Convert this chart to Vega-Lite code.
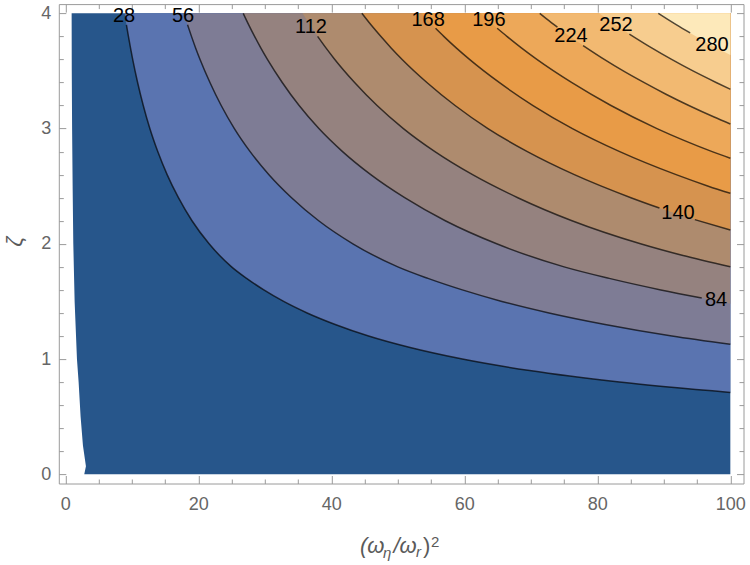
{
  "$schema": "https://vega.github.io/schema/vega-lite/v6.json",
  "width": 684.7,
  "height": 479.4,
  "autosize": {"type": "none"},
  "padding": {"left": 58.8, "top": 4.1, "right": 6.5, "bottom": 81.5},
  "background": "white",
  "config": {"view": {"stroke": null}, "font": "Liberation Sans"},
  "datasets": {
    "region": [
      {"x": 2.85, "zeta": 0.0},
      {"x": 3.1, "zeta": 0.07},
      {"x": 2.65, "zeta": 0.25},
      {"x": 2.3, "zeta": 0.5},
      {"x": 2.0, "zeta": 0.8},
      {"x": 1.75, "zeta": 1.0},
      {"x": 1.4, "zeta": 1.5},
      {"x": 1.2, "zeta": 2.0},
      {"x": 1.1, "zeta": 2.5},
      {"x": 1.02, "zeta": 3.0},
      {"x": 0.97, "zeta": 3.5},
      {"x": 0.95, "zeta": 4.0}
    ],
    "contours": [
      {"level": 28, "part": "hidden", "x": 8.92, "zeta": 4.0},
      {"level": 28, "part": "a", "x": 9.19, "zeta": 3.9},
      {"level": 28, "part": "a", "x": 9.49, "zeta": 3.8},
      {"level": 28, "part": "a", "x": 9.8, "zeta": 3.7},
      {"level": 28, "part": "a", "x": 10.13, "zeta": 3.6},
      {"level": 28, "part": "a", "x": 10.87, "zeta": 3.4},
      {"level": 28, "part": "a", "x": 11.72, "zeta": 3.2},
      {"level": 28, "part": "a", "x": 12.71, "zeta": 3.0},
      {"level": 28, "part": "a", "x": 13.9, "zeta": 2.8},
      {"level": 28, "part": "a", "x": 15.31, "zeta": 2.6},
      {"level": 28, "part": "a", "x": 17.01, "zeta": 2.4},
      {"level": 28, "part": "a", "x": 19.05, "zeta": 2.2},
      {"level": 28, "part": "a", "x": 21.62, "zeta": 2.0},
      {"level": 28, "part": "a", "x": 25.0, "zeta": 1.8},
      {"level": 28, "part": "a", "x": 27.26, "zeta": 1.7},
      {"level": 28, "part": "a", "x": 29.85, "zeta": 1.6},
      {"level": 28, "part": "a", "x": 32.83, "zeta": 1.5},
      {"level": 28, "part": "a", "x": 36.36, "zeta": 1.4},
      {"level": 28, "part": "a", "x": 40.58, "zeta": 1.3},
      {"level": 28, "part": "a", "x": 45.6, "zeta": 1.2},
      {"level": 28, "part": "a", "x": 51.85, "zeta": 1.1},
      {"level": 28, "part": "a", "x": 59.7, "zeta": 1.0},
      {"level": 28, "part": "a", "x": 69.83, "zeta": 0.9},
      {"level": 28, "part": "a", "x": 83.33, "zeta": 0.8},
      {"level": 28, "part": "a", "x": 100, "zeta": 0.71},

      {"level": 56, "part": "hidden", "x": 17.83, "zeta": 4.0},
      {"level": 56, "part": "a", "x": 18.38, "zeta": 3.9},
      {"level": 56, "part": "a", "x": 18.97, "zeta": 3.8},
      {"level": 56, "part": "a", "x": 19.59, "zeta": 3.7},
      {"level": 56, "part": "a", "x": 20.26, "zeta": 3.6},
      {"level": 56, "part": "a", "x": 21.75, "zeta": 3.4},
      {"level": 56, "part": "a", "x": 23.44, "zeta": 3.2},
      {"level": 56, "part": "a", "x": 25.42, "zeta": 3.0},
      {"level": 56, "part": "a", "x": 27.79, "zeta": 2.8},
      {"level": 56, "part": "a", "x": 30.62, "zeta": 2.6},
      {"level": 56, "part": "a", "x": 34.02, "zeta": 2.4},
      {"level": 56, "part": "a", "x": 38.1, "zeta": 2.2},
      {"level": 56, "part": "a", "x": 43.24, "zeta": 2.0},
      {"level": 56, "part": "a", "x": 50.0, "zeta": 1.8},
      {"level": 56, "part": "a", "x": 54.53, "zeta": 1.7},
      {"level": 56, "part": "a", "x": 59.7, "zeta": 1.6},
      {"level": 56, "part": "a", "x": 65.65, "zeta": 1.5},
      {"level": 56, "part": "a", "x": 72.73, "zeta": 1.4},
      {"level": 56, "part": "a", "x": 81.16, "zeta": 1.3},
      {"level": 56, "part": "a", "x": 91.21, "zeta": 1.2},
      {"level": 56, "part": "a", "x": 100, "zeta": 1.128},

      {"level": 84, "part": "a", "x": 26.75, "zeta": 4.0},
      {"level": 84, "part": "a", "x": 27.58, "zeta": 3.9},
      {"level": 84, "part": "a", "x": 28.46, "zeta": 3.8},
      {"level": 84, "part": "a", "x": 29.39, "zeta": 3.7},
      {"level": 84, "part": "a", "x": 30.39, "zeta": 3.6},
      {"level": 84, "part": "a", "x": 32.62, "zeta": 3.4},
      {"level": 84, "part": "a", "x": 35.16, "zeta": 3.2},
      {"level": 84, "part": "a", "x": 38.13, "zeta": 3.0},
      {"level": 84, "part": "a", "x": 41.69, "zeta": 2.8},
      {"level": 84, "part": "a", "x": 45.93, "zeta": 2.6},
      {"level": 84, "part": "a", "x": 51.03, "zeta": 2.4},
      {"level": 84, "part": "a", "x": 57.14, "zeta": 2.2},
      {"level": 84, "part": "a", "x": 64.86, "zeta": 2.0},
      {"level": 84, "part": "a", "x": 75.0, "zeta": 1.8},
      {"level": 84, "part": "a", "x": 81.79, "zeta": 1.7},
      {"level": 84, "part": "a", "x": 89.55, "zeta": 1.6},
      {"level": 84, "part": "a", "x": 95.7, "zeta": 1.53},
      {"level": 84, "part": "hidden", "x": 100, "zeta": 1.48},

      {"level": 112, "part": "hidden", "x": 35.67, "zeta": 4.0},
      {"level": 112, "part": "hidden", "x": 36.77, "zeta": 3.9},
      {"level": 112, "part": "a", "x": 37.94, "zeta": 3.8},
      {"level": 112, "part": "a", "x": 39.19, "zeta": 3.7},
      {"level": 112, "part": "a", "x": 40.52, "zeta": 3.6},
      {"level": 112, "part": "a", "x": 43.5, "zeta": 3.4},
      {"level": 112, "part": "a", "x": 46.88, "zeta": 3.2},
      {"level": 112, "part": "a", "x": 50.84, "zeta": 3.0},
      {"level": 112, "part": "a", "x": 55.58, "zeta": 2.8},
      {"level": 112, "part": "a", "x": 61.24, "zeta": 2.6},
      {"level": 112, "part": "a", "x": 68.04, "zeta": 2.4},
      {"level": 112, "part": "a", "x": 76.19, "zeta": 2.2},
      {"level": 112, "part": "a", "x": 86.49, "zeta": 2.0},
      {"level": 112, "part": "a", "x": 92.75, "zeta": 1.9},
      {"level": 112, "part": "a", "x": 100, "zeta": 1.8},

      {"level": 140, "part": "a", "x": 44.59, "zeta": 4.0},
      {"level": 140, "part": "a", "x": 45.96, "zeta": 3.9},
      {"level": 140, "part": "a", "x": 47.43, "zeta": 3.8},
      {"level": 140, "part": "a", "x": 48.99, "zeta": 3.7},
      {"level": 140, "part": "a", "x": 50.65, "zeta": 3.6},
      {"level": 140, "part": "a", "x": 54.37, "zeta": 3.4},
      {"level": 140, "part": "a", "x": 58.61, "zeta": 3.2},
      {"level": 140, "part": "a", "x": 63.55, "zeta": 3.0},
      {"level": 140, "part": "a", "x": 69.48, "zeta": 2.8},
      {"level": 140, "part": "a", "x": 76.55, "zeta": 2.6},
      {"level": 140, "part": "a", "x": 85.05, "zeta": 2.4},
      {"level": 140, "part": "a", "x": 89.34, "zeta": 2.31},
      {"level": 140, "part": "b", "x": 94.66, "zeta": 2.21},
      {"level": 140, "part": "b", "x": 100, "zeta": 2.12},

      {"level": 168, "part": "hidden", "x": 53.5, "zeta": 4.0},
      {"level": 168, "part": "a", "x": 55.67, "zeta": 3.87},
      {"level": 168, "part": "a", "x": 56.91, "zeta": 3.8},
      {"level": 168, "part": "a", "x": 58.78, "zeta": 3.7},
      {"level": 168, "part": "a", "x": 60.78, "zeta": 3.6},
      {"level": 168, "part": "a", "x": 65.24, "zeta": 3.4},
      {"level": 168, "part": "a", "x": 70.33, "zeta": 3.2},
      {"level": 168, "part": "a", "x": 76.26, "zeta": 3.0},
      {"level": 168, "part": "a", "x": 83.37, "zeta": 2.8},
      {"level": 168, "part": "a", "x": 91.85, "zeta": 2.6},
      {"level": 168, "part": "a", "x": 96.69, "zeta": 2.5},
      {"level": 168, "part": "a", "x": 100, "zeta": 2.438},

      {"level": 196, "part": "hidden", "x": 62.42, "zeta": 4.0},
      {"level": 196, "part": "a", "x": 64.94, "zeta": 3.87},
      {"level": 196, "part": "a", "x": 66.4, "zeta": 3.8},
      {"level": 196, "part": "a", "x": 68.58, "zeta": 3.7},
      {"level": 196, "part": "a", "x": 70.91, "zeta": 3.6},
      {"level": 196, "part": "a", "x": 76.12, "zeta": 3.4},
      {"level": 196, "part": "a", "x": 82.05, "zeta": 3.2},
      {"level": 196, "part": "a", "x": 88.97, "zeta": 3.0},
      {"level": 196, "part": "a", "x": 92.93, "zeta": 2.9},
      {"level": 196, "part": "a", "x": 97.27, "zeta": 2.8},
      {"level": 196, "part": "a", "x": 100, "zeta": 2.742},

      {"level": 224, "part": "a", "x": 71.34, "zeta": 4.0},
      {"level": 224, "part": "a", "x": 72.42, "zeta": 3.95},
      {"level": 224, "part": "a", "x": 74.0, "zeta": 3.88},
      {"level": 224, "part": "b", "x": 77.86, "zeta": 3.72},
      {"level": 224, "part": "b", "x": 81.04, "zeta": 3.6},
      {"level": 224, "part": "b", "x": 83.9, "zeta": 3.5},
      {"level": 224, "part": "b", "x": 86.99, "zeta": 3.4},
      {"level": 224, "part": "b", "x": 90.25, "zeta": 3.3},
      {"level": 224, "part": "b", "x": 93.76, "zeta": 3.2},
      {"level": 224, "part": "b", "x": 97.56, "zeta": 3.1},
      {"level": 224, "part": "b", "x": 100, "zeta": 3.04},

      {"level": 252, "part": "hidden", "x": 80.25, "zeta": 4.0},
      {"level": 252, "part": "a", "x": 84.82, "zeta": 3.82},
      {"level": 252, "part": "a", "x": 88.17, "zeta": 3.7},
      {"level": 252, "part": "a", "x": 91.17, "zeta": 3.6},
      {"level": 252, "part": "a", "x": 94.38, "zeta": 3.5},
      {"level": 252, "part": "a", "x": 97.86, "zeta": 3.4},
      {"level": 252, "part": "a", "x": 100, "zeta": 3.341},

      {"level": 280, "part": "a", "x": 89.17, "zeta": 4.0},
      {"level": 280, "part": "a", "x": 90.53, "zeta": 3.95},
      {"level": 280, "part": "a", "x": 91.92, "zeta": 3.9},
      {"level": 280, "part": "a", "x": 93.96, "zeta": 3.83},
      {"level": 280, "part": "hidden", "x": 97.97, "zeta": 3.7},
      {"level": 280, "part": "hidden", "x": 100, "zeta": 3.638}
    ],
    "labels": [
      {"level": 28, "x": 8.83, "zeta": 3.978},
      {"level": 56, "x": 17.7, "zeta": 3.978},
      {"level": 84, "x": 97.85, "zeta": 1.512},
      {"level": 112, "x": 36.95, "zeta": 3.881},
      {"level": 140, "x": 92.13, "zeta": 2.267},
      {"level": 168, "x": 54.55, "zeta": 3.942},
      {"level": 196, "x": 63.7, "zeta": 3.942},
      {"level": 224, "x": 76.04, "zeta": 3.803},
      {"level": 252, "x": 82.8, "zeta": 3.899},
      {"level": 280, "x": 97.25, "zeta": 3.726}
    ]
  },
  "layer": [
    {
      "data": {"name": "region"},
      "mark": {"type": "area", "orient": "horizontal", "color": "#27568b"},
      "encoding": {
        "y": {
          "field": "zeta", "type": "quantitative",
          "scale": {"domain": [-0.08, 4.08], "nice": false, "zero": false},
          "axis": {
            "orient": "left",
            "values": [0, 0.2, 0.4, 0.6, 0.8, 1, 1.2, 1.4, 1.6, 1.8, 2, 2.2, 2.4, 2.6, 2.8, 3, 3.2, 3.4, 3.6, 3.8, 4],
            "labelExpr": "abs(datum.value - round(datum.value)) < 0.001 ? toString(round(datum.value)) : ''",
            "tickSize": {"condition": {"test": "abs(datum.value - round(datum.value)) < 0.001", "value": -7}, "value": -4.5},
            "grid": false, "domainColor": "#9a9a9a", "tickColor": "#9a9a9a", "domainWidth": 1, "tickWidth": 1,
            "labelColor": "#666666", "labelFontSize": 18, "labelPadding": 15, "labelOverlap": false, "labelFlush": false,
            "title": "ζ", "titleFontSize": 22, "titleFontStyle": "italic", "titleFontWeight": "normal", "titleColor": "#5a5a5a",
            "titleAngle": 270, "titleAlign": "center", "titleBaseline": "middle", "titleX": -44.8, "titleY": 237
          }
        },
        "x": {
          "field": "x", "type": "quantitative",
          "scale": {"domain": [-0.98, 101.98], "nice": false, "zero": false},
          "axis": {
            "orient": "bottom",
            "values": [0, 5, 10, 15, 20, 25, 30, 35, 40, 45, 50, 55, 60, 65, 70, 75, 80, 85, 90, 95, 100],
            "labelExpr": "datum.value % 20 === 0 ? toString(datum.value) : ''",
            "tickSize": {"condition": {"test": "datum.value % 20 === 0", "value": -8}, "value": -4.5},
            "grid": false, "domainColor": "#9a9a9a", "tickColor": "#9a9a9a", "domainWidth": 1, "tickWidth": 1,
            "labelColor": "#666666", "labelFontSize": 18, "labelPadding": 19.5, "labelOverlap": false, "labelFlush": false,
            "title": null
          }
        },
        "x2": {"datum": 100}
      }
    },
    {
      "data": {"name": "contours"},
      "mark": {"type": "area", "interpolate": "monotone"},
      "encoding": {
        "x": {"field": "x", "type": "quantitative", "scale": {"domain": [-0.98, 101.98], "nice": false, "zero": false}, "axis": null},
        "y": {"field": "zeta", "type": "quantitative", "scale": {"domain": [-0.08, 4.08], "nice": false, "zero": false}, "axis": null},
        "y2": {"datum": 4},
        "color": {
          "field": "level", "type": "ordinal",
          "scale": {
            "domain": [28, 56, 84, 112, 140, 168, 196, 224, 252, 280],
            "range": ["#5a74b0", "#7e7c95", "#95827f", "#ae8b6e", "#d6934f", "#e89b47", "#eda859", "#f2b971", "#f7cd8f", "#fde9ba"]
          },
          "legend": null
        }
      }
    },
    {
      "data": {"name": "contours"},
      "transform": [{"filter": "datum.part !== 'hidden'"}],
      "mark": {"type": "line", "interpolate": "monotone", "color": "#000000", "strokeWidth": 1.5, "opacity": 0.68},
      "encoding": {
        "x": {
          "field": "x", "type": "quantitative",
          "scale": {"domain": [-0.98, 101.98], "nice": false, "zero": false},
          "axis": {
            "orient": "top",
            "values": [0, 5, 10, 15, 20, 25, 30, 35, 40, 45, 50, 55, 60, 65, 70, 75, 80, 85, 90, 95, 100],
            "labels": false,
            "tickSize": {"condition": {"test": "datum.value % 20 === 0", "value": -8}, "value": -4.5},
            "grid": false, "domainColor": "#9a9a9a", "tickColor": "#9a9a9a", "domainWidth": 1, "tickWidth": 1,
            "title": null
          }
        },
        "y": {
          "field": "zeta", "type": "quantitative",
          "scale": {"domain": [-0.08, 4.08], "nice": false, "zero": false},
          "axis": {
            "orient": "right",
            "values": [0, 0.2, 0.4, 0.6, 0.8, 1, 1.2, 1.4, 1.6, 1.8, 2, 2.2, 2.4, 2.6, 2.8, 3, 3.2, 3.4, 3.6, 3.8, 4],
            "labels": false,
            "tickSize": {"condition": {"test": "abs(datum.value - round(datum.value)) < 0.001", "value": -7}, "value": -4.5},
            "grid": false, "domainColor": "#9a9a9a", "tickColor": "#9a9a9a", "domainWidth": 1, "tickWidth": 1,
            "title": null
          }
        },
        "detail": [{"field": "level"}, {"field": "part"}]
      }
    },
    {
      "data": {"name": "labels"},
      "mark": {"type": "text", "fontSize": 20, "color": "#000000", "align": "center", "baseline": "middle"},
      "encoding": {
        "x": {"field": "x", "type": "quantitative", "scale": {"domain": [-0.98, 101.98], "nice": false, "zero": false}, "axis": null},
        "y": {"field": "zeta", "type": "quantitative", "scale": {"domain": [-0.08, 4.08], "nice": false, "zero": false}, "axis": null},
        "text": {"field": "level", "type": "quantitative"}
      }
    },
    {
      "data": {"values": [{}]},
      "mark": {"type": "text", "text": "(ω", "align": "left", "baseline": "alphabetic", "dy": 69.5, "fontSize": 22, "fontStyle": "italic", "color": "#5a5a5a"},
      "encoding": {
        "x": {"datum": 44.3, "type": "quantitative", "scale": {"domain": [-0.98, 101.98], "nice": false, "zero": false}, "axis": null},
        "y": {"datum": -0.08, "type": "quantitative", "scale": {"domain": [-0.08, 4.08], "nice": false, "zero": false}, "axis": null}
      }
    },
    {
      "data": {"values": [{}]},
      "mark": {"type": "text", "text": "η", "align": "left", "baseline": "alphabetic", "dx": 23, "dy": 74.5, "fontSize": 15, "fontStyle": "italic", "color": "#5a5a5a"},
      "encoding": {
        "x": {"datum": 44.3, "type": "quantitative", "scale": {"domain": [-0.98, 101.98], "nice": false, "zero": false}, "axis": null},
        "y": {"datum": -0.08, "type": "quantitative", "scale": {"domain": [-0.08, 4.08], "nice": false, "zero": false}, "axis": null}
      }
    },
    {
      "data": {"values": [{}]},
      "mark": {"type": "text", "text": "/ω", "align": "left", "baseline": "alphabetic", "dx": 33.5, "dy": 69.5, "fontSize": 22, "fontStyle": "italic", "color": "#5a5a5a"},
      "encoding": {
        "x": {"datum": 44.3, "type": "quantitative", "scale": {"domain": [-0.98, 101.98], "nice": false, "zero": false}, "axis": null},
        "y": {"datum": -0.08, "type": "quantitative", "scale": {"domain": [-0.08, 4.08], "nice": false, "zero": false}, "axis": null}
      }
    },
    {
      "data": {"values": [{}]},
      "mark": {"type": "text", "text": "r", "align": "left", "baseline": "alphabetic", "dx": 56, "dy": 73.5, "fontSize": 15, "fontStyle": "italic", "color": "#5a5a5a"},
      "encoding": {
        "x": {"datum": 44.3, "type": "quantitative", "scale": {"domain": [-0.98, 101.98], "nice": false, "zero": false}, "axis": null},
        "y": {"datum": -0.08, "type": "quantitative", "scale": {"domain": [-0.08, 4.08], "nice": false, "zero": false}, "axis": null}
      }
    },
    {
      "data": {"values": [{}]},
      "mark": {"type": "text", "text": ")", "align": "left", "baseline": "alphabetic", "dx": 63, "dy": 69.5, "fontSize": 22, "color": "#5a5a5a"},
      "encoding": {
        "x": {"datum": 44.3, "type": "quantitative", "scale": {"domain": [-0.98, 101.98], "nice": false, "zero": false}, "axis": null},
        "y": {"datum": -0.08, "type": "quantitative", "scale": {"domain": [-0.08, 4.08], "nice": false, "zero": false}, "axis": null}
      }
    },
    {
      "data": {"values": [{}]},
      "mark": {"type": "text", "text": "2", "align": "left", "baseline": "alphabetic", "dx": 71, "dy": 63.5, "fontSize": 15, "color": "#5a5a5a"},
      "encoding": {
        "x": {"datum": 44.3, "type": "quantitative", "scale": {"domain": [-0.98, 101.98], "nice": false, "zero": false}, "axis": null},
        "y": {"datum": -0.08, "type": "quantitative", "scale": {"domain": [-0.08, 4.08], "nice": false, "zero": false}, "axis": null}
      }
    }
  ],
  "resolve": {"axis": {"x": "independent", "y": "independent"}}
}
